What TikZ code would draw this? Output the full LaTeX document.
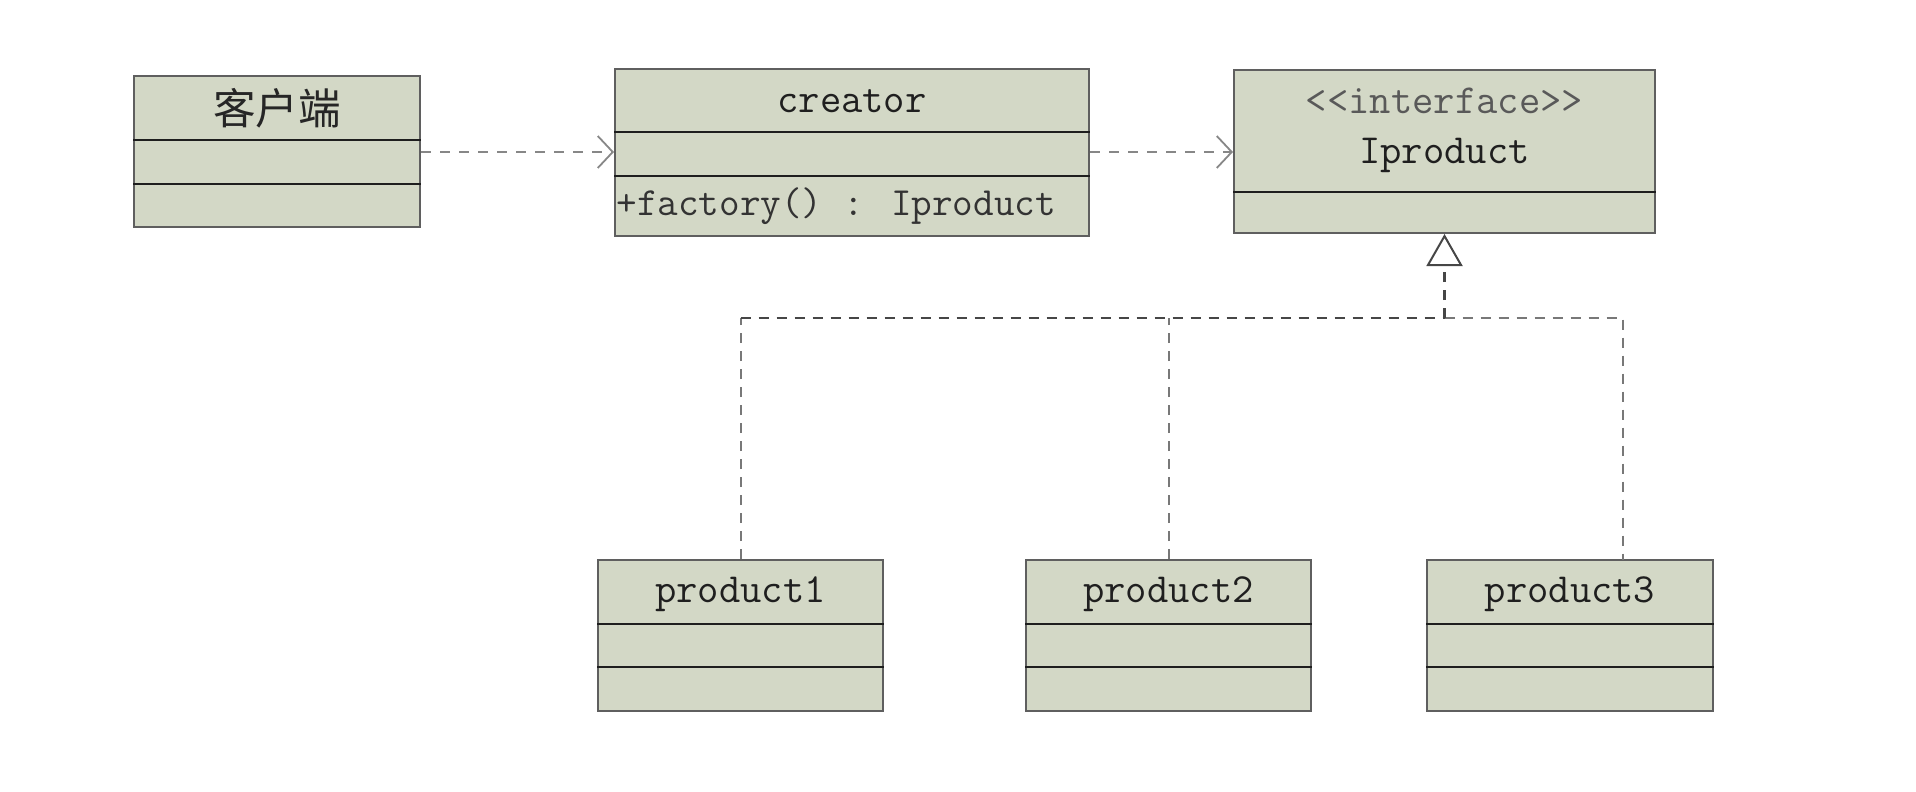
\documentclass[tikz,border=0pt]{standalone}
\usepackage{fontspec}
\newfontfamily\cjk{Noto Sans CJK SC}
\usetikzlibrary{arrows.meta}
\definecolor{boxfill}{RGB}{211,216,198}
\definecolor{boxedge}{RGB}{95,95,95}
\definecolor{rule}{RGB}{30,30,30}
\definecolor{depline}{RGB}{135,135,135}
\definecolor{implline}{RGB}{70,70,70}
\definecolor{impllight}{RGB}{120,120,120}
\tikzset{
  cls/.style={draw=boxedge, fill=boxfill, line width=1pt, inner sep=0pt},
  divider/.style={draw=rule, line width=1.1pt},
  title/.style={font=\ttfamily\fontsize{20.7}{24}\selectfont, text=black!88, inner sep=0pt},
  stereo/.style={font=\ttfamily\fontsize{20.7}{24}\selectfont, text=black!65, inner sep=0pt},
  member/.style={font=\ttfamily\fontsize{20}{24}\selectfont, text=black!80, inner sep=0pt, anchor=west},
  dep/.style={draw=depline, line width=1pt, dash pattern=on 5pt off 4.5pt,
    -{Straight Barb[length=7.5pt,width=16pt,line width=0.9pt]}},
  impl/.style={draw=implline, line width=1.1pt, dash pattern=on 5pt off 4pt},
  impllite/.style={draw=impllight, line width=1pt, dash pattern=on 5pt off 4pt},
  realize/.style={impl, -{Triangle[open,length=16pt,width=18pt,line width=1pt,fill=white]}}
}
\begin{document}
\begin{tikzpicture}[x=0.5pt,y=-0.5pt]
\useasboundingbox (0,0) rectangle (1916,792);

% client
\node[cls, minimum width=143pt, minimum height=75.5pt] (client) at (277,151.5) {};
\draw[divider] (client.west |- 0,140) -- (client.east |- 0,140);
\draw[divider] (client.west |- 0,184) -- (client.east |- 0,184);
\node[font=\cjk\fontsize{21.3}{24}\selectfont, text=black!85, inner sep=0pt] (clientname) at (277,108) {客户端};

% creator
\node[cls, minimum width=237pt, minimum height=83.5pt] (creator) at (852,152.5) {};
\draw[divider] (creator.west |- 0,132) -- (creator.east |- 0,132);
\draw[divider] (creator.west |- 0,176) -- (creator.east |- 0,176);
\node[title] (creatorname) at (852,101) {creator};
\node[member] (factory) at (616,206) {+factory() : Iproduct};

% interface
\node[cls, minimum width=210.5pt, minimum height=81.5pt] (iface) at (1444.5,151.5) {};
\draw[divider] (iface.west |- 0,192) -- (iface.east |- 0,192);
\node[stereo] (stereo) at (1444.5,101) {<{}<interface>{}>};
\node[title] (ifacename) at (1444.5,155) {Iproduct};

% products
\node[cls, minimum width=142.5pt, minimum height=75.5pt] (p1) at (740.5,635.5) {};
\node[cls, minimum width=142.5pt, minimum height=75.5pt] (p2) at (1168.5,635.5) {};
\node[cls, minimum width=143pt, minimum height=75.5pt] (p3) at (1570,635.5) {};
\foreach \p in {p1,p2,p3}{
  \draw[divider] (\p.west |- 0,624) -- (\p.east |- 0,624);
  \draw[divider] (\p.west |- 0,667) -- (\p.east |- 0,667);
}
\node[title] (p1name) at (740.5,594) {product1};
\node[title] (p2name) at (1168.5,594) {product2};
\node[title] (p3name) at (1570,594) {product3};

% dependencies
\draw[dep] (client.east |- 0,152) -- (creator.west |- 0,152);
\draw[dep] (creator.east |- 0,152) -- (iface.west |- 0,152);

% realization
\coordinate (hub) at (1444.5,318);
\coordinate (p1corner) at (p1.north |- hub);
\coordinate (p3top) at (1623,560);
\draw[impllite] (p1.north) -- (p1corner);
\draw[impl] (p1corner) -- (hub);
\draw[impllite] (p2.north) -- (p2.north |- hub);
\draw[impllite] (hub) -| (p3top);
\draw[realize] (hub) -- (iface.south);
\end{tikzpicture}
\end{document}
